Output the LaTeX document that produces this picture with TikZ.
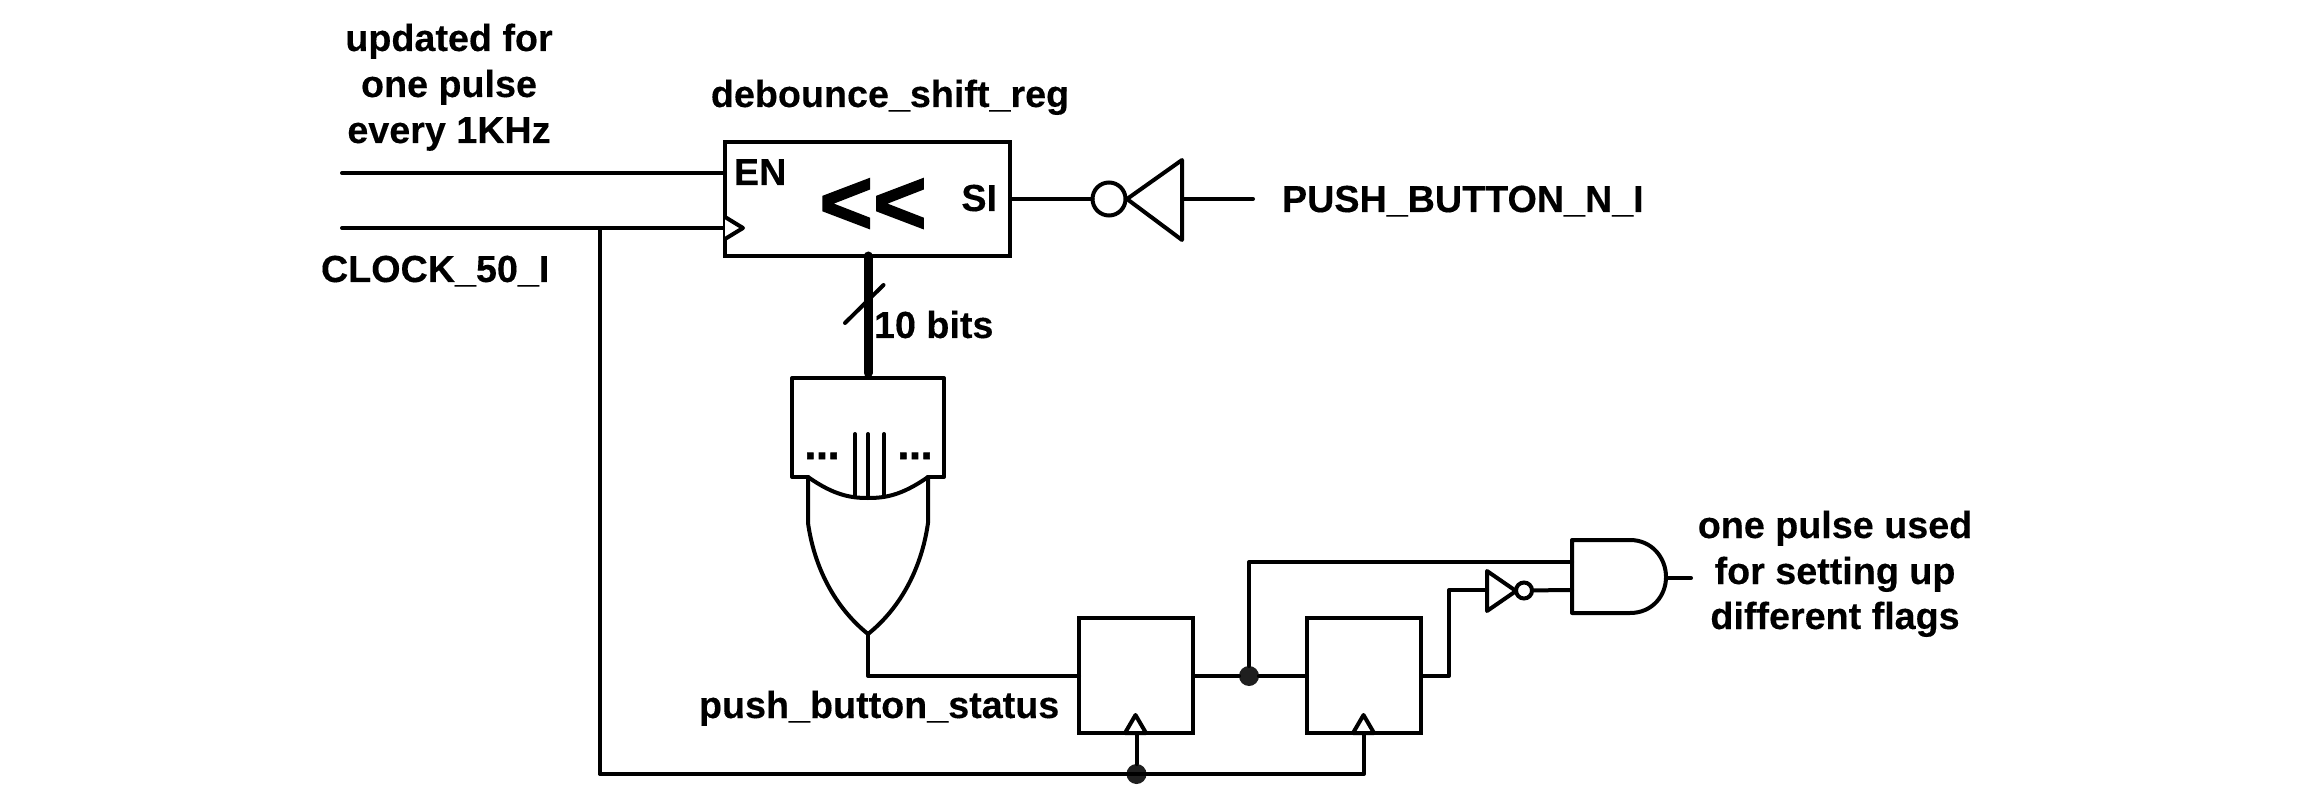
\documentclass[tikz,border=0pt]{standalone}
\usepackage{fontspec}
\setmainfont[BoldFeatures={FakeBold=0.25}]{Liberation Sans}
\newfontfamily\heavyfont[FakeBold=1.6]{Liberation Sans Bold}
\newcommand{\lblfont}{\fontsize{18.85pt}{23pt}\selectfont\bfseries}
\tikzset{
  wire/.style={line width=2pt,line cap=round,line join=round},
  thinwire/.style={line width=1.6pt,line cap=round},
  bus/.style={line width=4.5pt,line cap=round},
  block/.style={draw,line width=2pt,rectangle,outer sep=0pt,inner sep=0pt},
  ffbox/.style={block,minimum width=57pt,minimum height=57.5pt},
  bubble/.style={draw,fill=white,circle,line width=2pt,outer sep=0pt,inner sep=0pt},
  junction/.style={fill=black!88,circle,outer sep=0pt,inner sep=0pt,minimum size=10pt},
  lbl/.style={font=\lblfont,inner sep=0pt,outer sep=0pt,align=center},
  gate/.style={line width=2pt,line join=round,line cap=round},
}
\begin{document}
\begin{tikzpicture}[x=0.5pt,y=-0.5pt]
\useasboundingbox[fill=white] (0,0) rectangle (2316,812);

% shift register
\node[block,minimum width=142.5pt,minimum height=57pt] (sr) at (867.5,199) {};
\coordinate (en) at (725,173);
\coordinate (ck) at (725,228);
\coordinate (enin) at (342,173);
\coordinate (ckin) at (342,228);
\draw[wire] (enin) -- (en);
\draw[wire] (ckin) -- (ck);
\draw[gate,fill=white] (725,217) -- (743,228) -- (725,239);

\node[lbl,anchor=base] (t1) at (449,51) {updated for};
\node[lbl,anchor=base] (t2) at (449,97) {one pulse};
\node[lbl,anchor=base] (t3) at (449,143) {every 1KHz};
\node[lbl,anchor=base] (tsr) at (890,107) {debounce\_shift\_reg};
\node[lbl,anchor=base west] (ten) at (734,185) {EN};
\node[lbl,anchor=base east] (tsi) at (997,211) {SI};
\node[lbl,anchor=base,font=\fontsize{46pt}{46pt}\heavyfont] (tshift) at (873,234) {{<}{<}};
\node[lbl,anchor=base west] (tck) at (321,282) {CLOCK\_50\_I};
\node[lbl,anchor=base west] (tbits) at (874,338) {10 bits};
\node[lbl,anchor=base west] (tpb) at (1282,212) {PUSH\_BUTTON\_N\_I};
\node[lbl,anchor=base west] (tpbs) at (699,718) {push\_button\_status};
\node[lbl,anchor=base] (o1) at (1835,538) {one pulse used};
\node[lbl,anchor=base] (o2) at (1835,584) {for setting up};
\node[lbl,anchor=base] (o3) at (1835,629) {different flags};

% input inverter
\node[bubble,minimum size=16.5pt] (b1) at (1109,199) {};
\coordinate (b1apex) at (1127,199);
\coordinate (b1base) at (1182,199);
\coordinate (pbend) at (1253,199);
\draw[gate] (1182,160) -- (b1apex) -- (1182,240) -- cycle;
\draw[wire] (sr.east |- b1) -- (b1);
\draw[wire] (b1base) -- (pbend);

% bus
\coordinate (bustop) at (868,256);
\coordinate (busbot) at (868,373);
\draw[bus] (bustop) -- (busbot);
\coordinate (s1) at (845,323);
\coordinate (s2) at (883.5,285);
\draw[wire] (s1) -- (s2);

% reduction OR
\draw[gate] (808,477) -- (792,477) -- (792,378) -- (944,378) -- (944,477) -- (928,477);
\draw[gate] (808,477) .. controls (835,496) and (852,498) .. (868,498) .. controls (884,498) and (901,496) .. (928,477);
\draw[gate] (808,477) -- (808,523) .. controls (815,572) and (838,610) .. (868,634);
\draw[gate] (928,477) -- (928,523) .. controls (921,572) and (898,610) .. (868,634);
\coordinate (ortip) at (868,634);
\coordinate (orbend) at (868,676);
\draw[gate] (855,434) -- (855,497);
\draw[gate] (868,434) -- (868,498);
\draw[gate] (884,434) -- (884,497);
\node[lbl,anchor=base,font=\fontsize{21pt}{21pt}\heavyfont] (dl) at (822,459) {...};
\node[lbl,anchor=base,font=\fontsize{21pt}{21pt}\heavyfont] (dr) at (915,459) {...};

% flip-flops
\node[ffbox] (ff1) at (1136,675.5) {};
\node[ffbox] (ff2) at (1364,675.5) {};
\draw[gate,fill=white] (1125,733) -- (1135.5,715) -- (1146,733) -- cycle;
\draw[gate,fill=white] (1353,733) -- (1363.5,715) -- (1374,733) -- cycle;
\draw[wire] (ortip) -- (orbend) -- (ff1.west |- orbend);

% clock distribution
\coordinate (cktap) at (600,228);
\coordinate (ckcorner) at (600,774);
\coordinate (ckend) at (1364,774);
\node[junction] (j2) at (1136.5,774) {};
\draw[thinwire] (cktap) -- (ckcorner);
\draw[wire] (ckcorner) -- (ckend) -- (ff2.south -| ckend);
\draw[wire] (j2) -- (j2 |- ff1.south);

% second stage
\node[junction] (j1) at (1249,676) {};
\draw[wire] (ff1.east |- j1) -- (j1) -- (ff2.west |- j1);
\coordinate (aup) at (1572,562);
\coordinate (alow) at (1572,590);
\coordinate (upc) at (1249,562);
\draw[wire] (j1) -- (upc) -- (aup);

% inverter before AND
\coordinate (ib) at (1487,590);
\coordinate (fb1) at (1449,676);
\coordinate (fb2) at (1449,590);
\draw[wire] (ff2.east |- fb1) -- (fb1) -- (fb2) -- (ib);
\draw[gate] (1487,571) -- (1516,591) -- (1487,611) -- cycle;
\node[bubble,minimum size=8pt] (b2) at (1524,590.5) {};
\draw[wire] (b2) -- (alow);

% AND gate
\draw[gate] (1572,540) -- (1630,540) .. controls (1652,540) and (1666,558) .. (1666,577) .. controls (1666,596) and (1652,613) .. (1630,613) -- (1572,613) -- cycle;
\coordinate (aout) at (1666,578);
\coordinate (aend) at (1691,578);
\draw[wire] (aout) -- (aend);
\end{tikzpicture}
\end{document}
